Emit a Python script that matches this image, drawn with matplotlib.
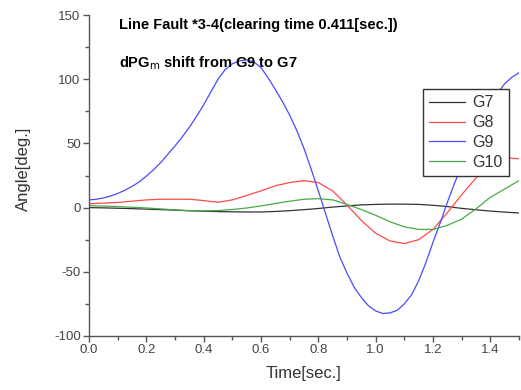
import matplotlib
matplotlib.use("Agg")
import matplotlib.pyplot as plt
from matplotlib.ticker import MultipleLocator

plt.rcParams['font.family'] = ['Liberation Sans', 'DejaVu Sans']
plt.rcParams['axes.unicode_minus'] = False

time = [0.00, 0.05, 0.10, 0.15, 0.20, 0.25, 0.30, 0.35, 0.40, 0.45,
        0.50, 0.55, 0.60, 0.65, 0.70, 0.75, 0.80, 0.85, 0.90, 0.95,
        1.00, 1.05, 1.10, 1.15, 1.20, 1.25, 1.30, 1.35, 1.40, 1.45, 1.50]

g7 = [0.0, -0.2, -0.5, -0.8, -1.2, -1.6, -2.0, -2.5, -2.8, -3.1,
      -3.3, -3.4, -3.4, -3.0, -2.4, -1.6, -0.7, 0.4, 1.3, 2.1,
      2.5, 2.7, 2.7, 2.5, 1.8, 0.8, -0.6, -1.7, -2.7, -3.5, -4.2]

g8 = [3.0, 3.5, 4.0, 5.0, 6.0, 6.5, 6.5, 6.5, 5.5, 4.2,
      6.0, 9.5, 13.0, 17.0, 19.5, 21.0, 19.5, 13.0, 2.0, -10.0,
      -20.0, -26.0, -28.0, -25.0, -17.0, -4.0, 10.0, 23.0, 33.0, 39.0, 38.0]

time_g9 = [0.000, 0.025, 0.050, 0.075, 0.100, 0.125, 0.150, 0.175, 0.200, 0.225,
           0.250, 0.275, 0.300, 0.325, 0.350, 0.375, 0.400, 0.425, 0.450, 0.475,
           0.500, 0.525, 0.550, 0.575, 0.600, 0.625, 0.650, 0.675, 0.700, 0.725,
           0.750, 0.775, 0.800, 0.825, 0.850, 0.875, 0.900, 0.925, 0.950, 0.975,
           1.000, 1.025, 1.050, 1.075, 1.100, 1.125, 1.150, 1.175, 1.200, 1.225,
           1.250, 1.275, 1.300, 1.325, 1.350, 1.375, 1.400, 1.425, 1.450, 1.475,
           1.500]

g9 = [6.0, 6.5, 7.5, 9.0, 11.0, 13.5, 16.5, 20.0, 24.5, 29.5,
      35.0, 41.5, 48.0, 55.0, 62.5, 71.0, 80.0, 90.0, 100.0, 107.5,
      112.0, 114.3, 115.0, 113.5, 109.0, 101.0, 92.0, 82.5, 72.0, 60.0,
      46.0, 30.0, 13.0, -4.5, -22.0, -38.5, -51.0, -62.0, -70.0, -76.5,
      -80.5, -82.5, -82.0, -80.0, -75.0, -68.0, -57.0, -43.0, -27.0, -12.0,
      4.0, 19.0, 32.0, 45.0, 57.0, 69.0, 80.0, 89.0, 96.5, 101.5,
      105.0]

g10 = [1.5, 1.2, 0.8, 0.3, -0.3, -1.0, -1.8, -2.3, -2.5, -2.3,
       -1.5, -0.3, 1.3, 3.2, 5.0, 6.5, 7.0, 6.0, 2.5, -1.5,
       -6.0, -11.0, -15.0, -17.0, -17.0, -13.8, -9.0, -1.0, 8.0, 14.5, 21.0]

labels = ['G7', 'G8', 'G9', 'G10']
colors = ['#333333', '#ff4a4a', '#4a4aff', '#4aa84a']
xs = [time, time, time_g9, time]
series = [g7, g8, g9, g10]

fig = plt.figure(figsize=(5.21, 3.90), dpi=100)
ax = fig.add_axes([89/521, 1-336/390, (519-89)/521, (336-15)/390])

for x, s, c, lab in zip(xs, series, colors, labels):
    ax.plot(x, s, color=c, lw=0.9, label=lab)

ax.set_xlim(0, 1.5)
ax.set_ylim(-100, 150)
ax.xaxis.set_major_locator(MultipleLocator(0.2))
ax.xaxis.set_minor_locator(MultipleLocator(0.1))
ax.yaxis.set_major_locator(MultipleLocator(50))
ax.yaxis.set_minor_locator(MultipleLocator(25))
ax.xaxis.set_major_formatter(plt.FuncFormatter(lambda v, p: f"{v:.1f}"))

for sp in ['top', 'right']:
    ax.spines[sp].set_visible(False)
for sp in ['left', 'bottom']:
    ax.spines[sp].set_color('#555555')
    ax.spines[sp].set_linewidth(1.0)

ax.tick_params(which='major', direction='out', length=4, width=1, color='#555555',
               labelsize=9.5, labelcolor='#444444', pad=2)
ax.tick_params(which='minor', direction='out', length=3, width=1, color='#555555')

ax.set_xlabel('Time[sec.]', fontsize=12, color='#333333')
ax.set_ylabel('Angle[deg.]', fontsize=12, color='#333333')
ax.xaxis.set_label_coords(0.5, -0.095)
ax.yaxis.set_label_coords(-0.135, 0.52)

leg = ax.legend(loc='upper left', bbox_to_anchor=((423-89)/430, 1-(89-15)/321),
                frameon=True, fancybox=False, fontsize=11.5, handlelength=2.2,
                handletextpad=0.5, borderpad=0.4, labelspacing=0.3,
                borderaxespad=0)
leg.get_frame().set_edgecolor('#333333')
leg.get_frame().set_linewidth(1.0)
leg.get_frame().set_alpha(1.0)
for t in leg.get_texts():
    t.set_color('#333333')

fig.text(119/521, 1-25/390, 'Line Fault *3-4(clearing time 0.411[sec.])',
         fontsize=10.5, fontweight='bold', va='center', ha='left')
fig.text(119/521, 1-63/390, r'dPG$_\mathrm{m}$ shift from G9 to G7',
         fontsize=10.5, fontweight='bold', va='center', ha='left')

fig.savefig('out.png', dpi=100)
